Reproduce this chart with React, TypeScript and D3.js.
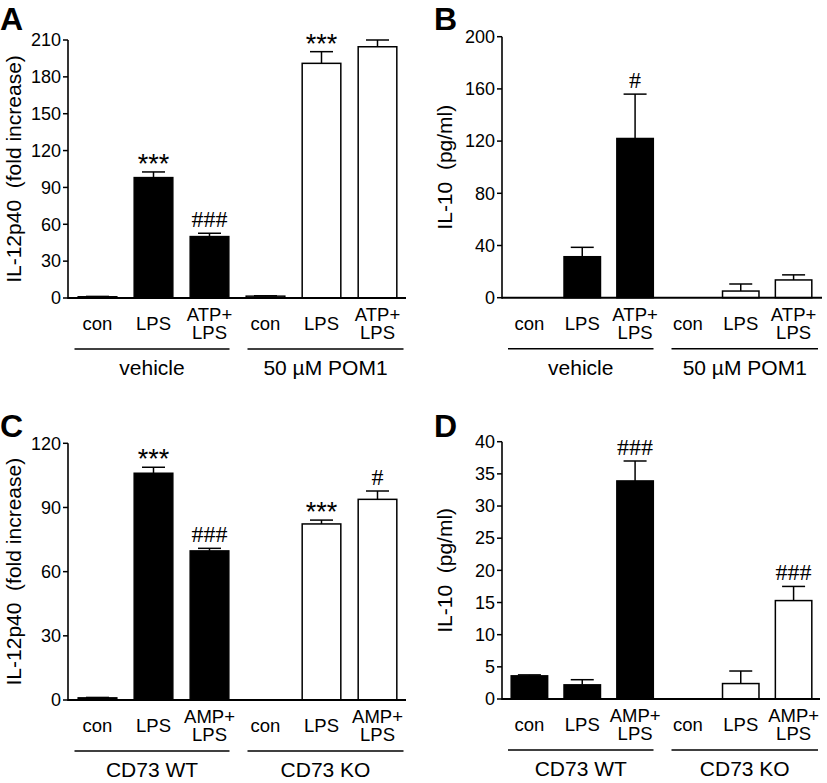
import React from "react";
import * as d3 from "d3";

const catsAB = ["con", "LPS", "ATP+\nLPS", "con", "LPS", "ATP+\nLPS"];
const catsCD = ["con", "LPS", "AMP+\nLPS", "con", "LPS", "AMP+\nLPS"];
const groupsAB = ["vehicle", "50 µM POM1"];
const groupsCD = ["CD73 WT", "CD73 KO"];

const meanA = [1, 98, 50, 1.5, 191, 204.5];
const errA = [0.3, 4.6, 2.7, 0.3, 9.5, 5.5];
const sigA = ["", "***", "###", "", "***", ""];
const ticksA = [0, 30, 60, 90, 120, 150, 180, 210];

const meanB = [0, 31.4, 122, 0, 5.1, 13.6];
const errB = [0, 7.2, 34, 0, 5.4, 3.9];
const sigB = ["", "", "#", "", "", ""];
const ticksB = [0, 40, 80, 120, 160, 200];

const meanC = [1, 106, 69.7, 0, 82.3, 93.8];
const errC = [0.2, 2.8, 1.2, 0, 1.8, 3.9];
const sigC = ["", "***", "###", "", "***", "#"];
const ticksC = [0, 30, 60, 90, 120];

const meanD = [3.6, 2.2, 33.9, 0, 2.4, 15.3];
const errD = [0.15, 0.8, 3.1, 0, 1.95, 2.2];
const sigD = ["", "", "###", "", "", "###"];
const ticksD = [0, 5, 10, 15, 20, 25, 30, 35, 40];

const SANS = "'Liberation Sans', Arial, sans-serif";
const SERIF = "'Liberation Serif', 'Times New Roman', serif";

type PanelProps = {
  letter: string;
  letterX: number;
  letterY: number;
  title: string;
  titleX: number;
  cats: string[];
  groups: string[];
  mean: number[];
  err: number[];
  sig: string[];
  ticks: number[];
  axisX: number;
  axisEnd: number;
  band: [number, number];
  yRange: [number, number];
};

function Panel(p: PanelProps) {
  const yMax = p.ticks[p.ticks.length - 1];
  const y = d3.scaleLinear().domain([0, yMax]).range(p.yRange);
  const x = d3
    .scaleBand<number>()
    .domain(p.cats.map((_, i) => i))
    .range(p.band)
    .paddingInner(0.31)
    .paddingOuter(0.155);
  const bw = x.bandwidth();
  const cx = (i: number) => (x(i) as number) + bw / 2;
  const y0 = p.yRange[0];
  const mid = (p.band[0] + p.band[1]) / 2;
  const groupLines: [number, number][] = [
    [p.band[0] + 5, mid - 8],
    [mid + 10, p.band[1] - 2],
  ];
  const capW = 23;
  return (
    <g>
      <text x={p.letterX} y={p.letterY} fontFamily={SANS} fontWeight="bold" fontSize={32}>
        {p.letter}
      </text>
      <text
        transform={`translate(${p.titleX},${(p.yRange[0] + p.yRange[1]) / 2}) rotate(-90)`}
        textAnchor="middle"
        dy="0.35em"
        fontFamily={SANS}
        fontSize={21}
      >
        {p.title}
      </text>
      {p.mean.map((v, i) =>
        v > 0 ? (
          <rect
            key={"b" + i}
            x={x(i)}
            y={y(v)}
            width={bw}
            height={y0 - y(v)}
            fill={i < 3 ? "#000" : "#fff"}
            stroke="#000"
            strokeWidth={1.5}
          />
        ) : null
      )}
      {p.mean.map((v, i) =>
        p.err[i] > 0 ? (
          <g key={"e" + i} stroke="#000" strokeWidth={1.5}>
            <line x1={cx(i)} x2={cx(i)} y1={y(v)} y2={y(v + p.err[i])} />
            <line x1={cx(i) - capW / 2} x2={cx(i) + capW / 2} y1={y(v + p.err[i])} y2={y(v + p.err[i])} />
          </g>
        ) : null
      )}
      {p.sig.map((s, i) => {
        if (!s) return null;
        const top = y(p.mean[i] + p.err[i]);
        const isHash = s[0] === "#";
        return (
          <text
            key={"s" + i}
            x={cx(i)}
            y={isHash ? top - 6 : top + 1}
            textAnchor="middle"
            fontFamily={isHash ? SERIF : SANS}
            fontSize={isHash ? 24 : 27}
          >
            {s}
          </text>
        );
      })}
      <line x1={p.axisX} x2={p.axisX} y1={y0 + 1} y2={p.yRange[1]} stroke="#000" strokeWidth={1.6} />
      <line x1={p.axisX} x2={p.axisEnd} y1={y0} y2={y0} stroke="#000" strokeWidth={2} />
      {p.ticks.map((t) => (
        <g key={"t" + t}>
          <line x1={p.axisX - 5} x2={p.axisX} y1={y(t)} y2={y(t)} stroke="#000" strokeWidth={1.5} />
          <text x={p.axisX - 7} y={y(t)} dy="0.35em" textAnchor="end" fontFamily={SANS} fontSize={18}>
            {t}
          </text>
        </g>
      ))}
      {p.cats.map((c, i) => {
        const lines = c.split("\n");
        return (
          <text
            key={"c" + i}
            x={cx(i)}
            y={lines.length === 1 ? y0 + 26 : y0 + 16.5}
            dy="0.35em"
            textAnchor="middle"
            fontFamily={SANS}
            fontSize={18.5}
          >
            {lines.map((ln, j) => (
              <tspan key={j} x={cx(i)} dy={j === 0 ? "0.35em" : 18.5}>
                {ln}
              </tspan>
            ))}
          </text>
        );
      })}
      {groupLines.map(([a, b], k) => (
        <g key={"g" + k}>
          <line x1={a} x2={b} y1={y0 + 51} y2={y0 + 51} stroke="#000" strokeWidth={1.6} />
          <text x={(a + b) / 2} y={y0 + 70} dy="0.35em" textAnchor="middle" fontFamily={SANS} fontSize={21}>
            {p.groups[k]}
          </text>
        </g>
      ))}
    </g>
  );
}

export default function App() {
  return (
    <svg
      width={827}
      height={783}
      style={{ position: "absolute", left: 0, top: 0, background: "#fff" }}
    >
      <rect width={827} height={783} fill="#fff" />
      <Panel
        letter="A"
        letterX={0}
        letterY={30}
        title={"IL-12p40\u00A0\u00A0(fold increase)"}
        titleX={14}
        cats={catsAB}
        groups={groupsAB}
        mean={meanA}
        err={errA}
        sig={sigA}
        ticks={ticksA}
        axisX={68}
        axisEnd={406}
        band={[69.5, 405.5]}
        yRange={[298, 40]}
      />
      <Panel
        letter="B"
        letterX={434}
        letterY={30}
        title={"IL-10\u00A0\u00A0(pg/ml)"}
        titleX={445}
        cats={catsAB}
        groups={groupsAB}
        mean={meanB}
        err={errB}
        sig={sigB}
        ticks={ticksB}
        axisX={502}
        axisEnd={822}
        band={[503, 820]}
        yRange={[297.7, 36.7]}
      />
      <Panel
        letter="C"
        letterX={0}
        letterY={437}
        title={"IL-12p40\u00A0\u00A0(fold increase)"}
        titleX={14}
        cats={catsCD}
        groups={groupsCD}
        mean={meanC}
        err={errC}
        sig={sigC}
        ticks={ticksC}
        axisX={68}
        axisEnd={406}
        band={[69.5, 405.5]}
        yRange={[700, 443.3]}
      />
      <Panel
        letter="D"
        letterX={434}
        letterY={437}
        title={"IL-10\u00A0\u00A0(pg/ml)"}
        titleX={445}
        cats={catsCD}
        groups={groupsCD}
        mean={meanD}
        err={errD}
        sig={sigD}
        ticks={ticksD}
        axisX={502}
        axisEnd={820}
        band={[503, 820]}
        yRange={[699, 441.7]}
      />
    </svg>
  );
}
